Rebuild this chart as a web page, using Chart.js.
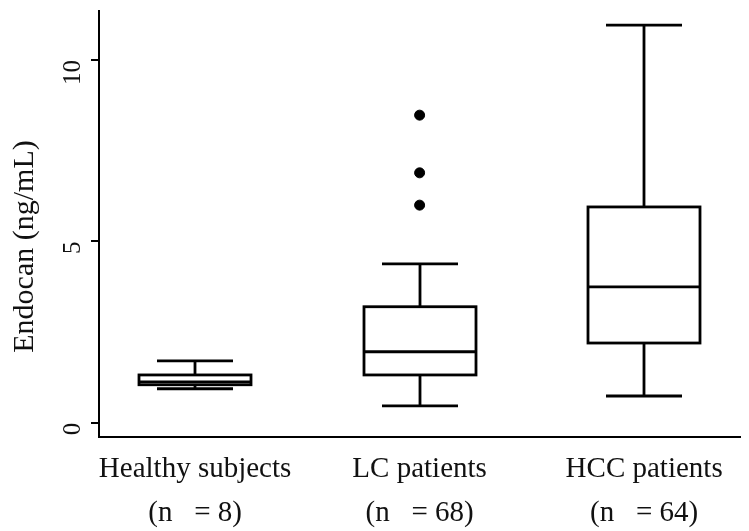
<!DOCTYPE html>
<html><head><meta charset="utf-8">
<script src="https://cdn.jsdelivr.net/npm/chart.js@4/dist/chart.umd.min.js"></script>
<style>html,body{margin:0;padding:0;background:#fff}#wrap{width:749px;height:531px}</style>
</head><body><div id="wrap"><canvas id="c" width="749" height="531"></canvas></div>
<script>
const categories = [["Healthy subjects", "(n   = 8)"], ["LC patients", "(n   = 68)"], ["HCC patients", "(n   = 64)"]];
const whiskerLow = [0.94, 0.47, 0.74];
const q1 = [1.05, 1.32, 2.2];
const median = [1.13, 1.96, 3.75];
const q3 = [1.32, 3.2, 5.95];
const whiskerHigh = [1.71, 4.38, 10.96];
const outlierGroup = [2, 2, 2];
const outlierValue = [8.48, 6.89, 6.0];
const yTicks = [0, 5, 10];

const FONT = "'Liberation Serif', 'Times New Roman', serif";

const boxPlugin = {
  id: 'boxes',
  afterDatasetsDraw(chart) {
    const ctx = chart.ctx, xs = chart.scales.x, ys = chart.scales.y;
    ctx.save();
    ctx.strokeStyle = '#000';
    ctx.lineWidth = 2.8;
    ctx.lineCap = 'butt';
    const boxHalf = 56, capHalf = 38;
    for (let i = 0; i < categories.length; i++) {
      const cx = Math.round(xs.getPixelForValue(i + 1));
      const yl = ys.getPixelForValue(whiskerLow[i]);
      const y1 = ys.getPixelForValue(q1[i]);
      const ym = ys.getPixelForValue(median[i]);
      const y3 = ys.getPixelForValue(q3[i]);
      const yh = ys.getPixelForValue(whiskerHigh[i]);
      ctx.beginPath();
      ctx.moveTo(cx, yh); ctx.lineTo(cx, y3);
      ctx.moveTo(cx, y1); ctx.lineTo(cx, yl);
      ctx.moveTo(cx - capHalf, yh); ctx.lineTo(cx + capHalf, yh);
      ctx.moveTo(cx - capHalf, yl); ctx.lineTo(cx + capHalf, yl);
      ctx.moveTo(cx - boxHalf, ym); ctx.lineTo(cx + boxHalf, ym);
      ctx.stroke();
      ctx.strokeRect(cx - boxHalf, y3, boxHalf * 2, y1 - y3);
    }
    ctx.restore();
  }
};

new Chart(document.getElementById('c'), {
  type: 'scatter',
  data: {
    datasets: [{
      data: outlierGroup.map((g, i) => ({ x: g, y: outlierValue[i] })),
      backgroundColor: '#000',
      borderColor: '#000',
      pointRadius: 5
    }]
  },
  plugins: [boxPlugin],
  options: {
    responsive: false,
    animation: false,
    events: [],
    layout: { padding: { top: 11, right: 9, left: 0, bottom: 0 } },
    plugins: { legend: { display: false }, tooltip: { enabled: false } },
    scales: {
      x: {
        type: 'linear',
        min: 0.572, max: 3.427,
        afterBuildTicks: s => { s.ticks = [1, 2, 3].map(v => ({ value: v })); },
        afterFit: s => { s.height = 94; s.paddingLeft = 0; s.paddingRight = 0; },
        grid: { display: false },
        border: { display: true, color: '#000', width: 2 },
        ticks: {
          color: '#111',
          font: { family: FONT, size: 29, lineHeight: 1.52 },
          padding: 2,
          maxRotation: 0,
          callback: v => categories[v - 1] || ''
        }
      },
      y: {
        min: -0.39, max: 11.35,
        afterBuildTicks: s => { s.ticks = yTicks.map(v => ({ value: v })); },
        afterFit: s => { s.width = 99; s.paddingTop = 0; s.paddingBottom = 0; },
        grid: { drawOnChartArea: false, drawTicks: true, tickLength: 8, color: '#000', lineWidth: 2 },
        border: { display: true, color: '#000', width: 2 },
        title: { display: true, text: 'Endocan (ng/mL)\u00a0\u00a0\u00a0\u00a0\u00a0\u00a0', color: '#111', font: { family: FONT, size: 30 }, padding: { top: 7, bottom: 0 } },
        ticks: { color: '#111', font: { family: FONT, size: 25 }, minRotation: 90, maxRotation: 90, padding: 18 }
      }
    }
  }
});
</script>
</body></html>
